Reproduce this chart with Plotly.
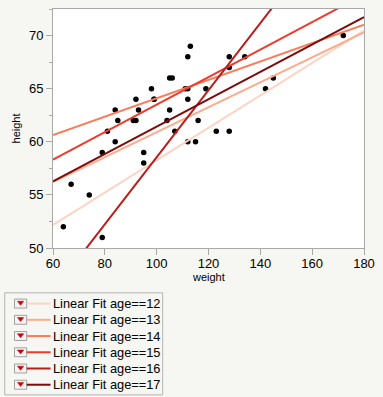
import numpy as np
import plotly.graph_objects as go

# ---- data ----
age = [12, 12, 12, 12, 12, 12, 12, 12,
       13, 13, 13, 13, 13, 13, 13,
       14, 14, 14, 14, 14, 14, 14, 14, 14, 14, 14, 14,
       15, 15, 15, 15, 15, 15, 15,
       16, 16, 16,
       17, 17, 17]
weight = [95, 123, 74, 145, 64, 84, 128, 79,
          112, 107, 67, 98, 105, 95, 79,
          81, 91, 142, 84, 85, 93, 99, 119, 92, 112, 99, 113,
          92, 112, 128, 111, 105, 104, 106,
          112, 115, 128,
          116, 134, 172]
height = [59, 61, 55, 66, 52, 60, 61, 51,
          60, 61, 56, 65, 63, 58, 59,
          61, 62, 65, 63, 62, 63, 64, 65, 64, 68, 64, 69,
          62, 64, 67, 65, 66, 62, 66,
          65, 60, 68,
          62, 68, 70]
fit_ages = [12, 13, 14, 15, 16, 17]
fit_colors = ["#fdd3c1", "#fcab8f", "#fb7c5c", "#ef3b2c", "#bb1d1d", "#7d0b0b"]
x_ticks = [60, 80, 100, 120, 140, 160, 180]
y_ticks = [50, 55, 60, 65, 70]
x_range = [60, 180]
y_range = [50, 72.5]

FONT = "Liberation Sans, Arial, Helvetica, sans-serif"
BG = "#f6f6f2"
AX = "#a9a9a9"

W, H = 383, 397
ML, MR, MT, MB = 53, 11, 8, 149
PW = W - ML - MR
PH = H - MT - MB


def px(x):
    return (x - ML) / PW


def py(y):
    return (H - MB - y) / PH


fig = go.Figure()

fig.add_trace(go.Scatter(
    x=weight, y=height, mode="markers",
    marker=dict(color="black", size=5.5),
    showlegend=False, hoverinfo="x+y"))

w_arr = np.array(weight, dtype=float)
h_arr = np.array(height, dtype=float)
a_arr = np.array(age)
for a, c in zip(fit_ages, fit_colors):
    m = a_arr == a
    slope, icpt = np.polyfit(w_arr[m], h_arr[m], 1)
    xs = np.array(x_range, dtype=float)
    fig.add_trace(go.Scatter(
        x=xs, y=icpt + slope * xs, mode="lines",
        line=dict(color=c, width=2),
        name=f"Linear Fit age=={a}", showlegend=False, hoverinfo="name"))

shapes = []
annotations = []

# legend frame
shapes.append(dict(type="rect", xref="paper", yref="paper",
                   x0=px(3.5), x1=px(165.5), y0=py(293), y1=py(395.5),
                   line=dict(color="#b4b4b4", width=1), fillcolor=BG, layer="above"))

for i, (a, c) in enumerate(zip(fit_ages, fit_colors)):
    cy = 303.8 + 16.3 * i
    # dropdown icon box
    shapes.append(dict(type="rect", xref="paper", yref="paper",
                       x0=px(13.5), x1=px(26), y0=py(cy - 4.5), y1=py(cy + 4.5),
                       line=dict(color="#a0a0a0", width=1), fillcolor="#f4f4f4",
                       layer="above"))
    path = (f"M {px(16.5)} {py(cy - 2.3)} L {px(23.0)} {py(cy - 2.3)} "
            f"L {px(19.75)} {py(cy + 1.8)} Z")
    shapes.append(dict(type="path", xref="paper", yref="paper", path=path,
                       line=dict(color="#d40000", width=0.5), fillcolor="#d40000",
                       layer="above"))
    # line sample
    shapes.append(dict(type="line", xref="paper", yref="paper",
                       x0=px(26), x1=px(50.5), y0=py(cy), y1=py(cy),
                       line=dict(color=c, width=2), layer="above"))
    annotations.append(dict(xref="paper", yref="paper", x=px(51), y=py(cy),
                            xanchor="left", yanchor="middle", showarrow=False,
                            text=f"Linear Fit age=={a}",
                            font=dict(family=FONT, size=12.8, color="black")))

# axis titles
annotations.append(dict(xref="paper", yref="paper", x=px(212.5), y=py(277.5),
                        xanchor="center", yanchor="middle", showarrow=False,
                        text="weight", font=dict(family=FONT, size=11, color="black")))
annotations.append(dict(xref="paper", yref="paper", x=px(15), y=py(128),
                        xanchor="center", yanchor="middle", showarrow=False,
                        textangle=-90,
                        text="height", font=dict(family=FONT, size=11, color="black")))

fig.update_layout(
    width=W, height=H, autosize=False,
    margin=dict(l=ML, r=MR, t=MT, b=MB, pad=0),
    paper_bgcolor=BG, plot_bgcolor="white",
    font=dict(family=FONT, size=13, color="black"),
    showlegend=False,
    shapes=shapes, annotations=annotations,
    xaxis=dict(range=x_range, tickvals=x_ticks, ticks="outside", ticklen=6,
               tickcolor=AX, tickwidth=1, showline=True, linecolor=AX, linewidth=1,
               mirror=True, showgrid=False, zeroline=False, ticklabelstandoff=-3,
               tickfont=dict(family=FONT, size=13, color="black")),
    yaxis=dict(range=y_range, tickvals=y_ticks, ticks="outside", ticklen=6,
               tickcolor=AX, tickwidth=1, showline=True, linecolor=AX, linewidth=1,
               mirror=True, showgrid=False, zeroline=False,
               minor=dict(tick0=50, dtick=2.5, ticks="outside", ticklen=3,
                          tickcolor=AX, showgrid=False),
               tickfont=dict(family=FONT, size=13, color="black")),
)

fig.write_html(
    "out.html",
    config={"displayModeBar": False},
    post_script="document.body.style.margin='0';document.body.style.overflow='hidden';"
                "document.body.style.background='" + BG + "';",
)
